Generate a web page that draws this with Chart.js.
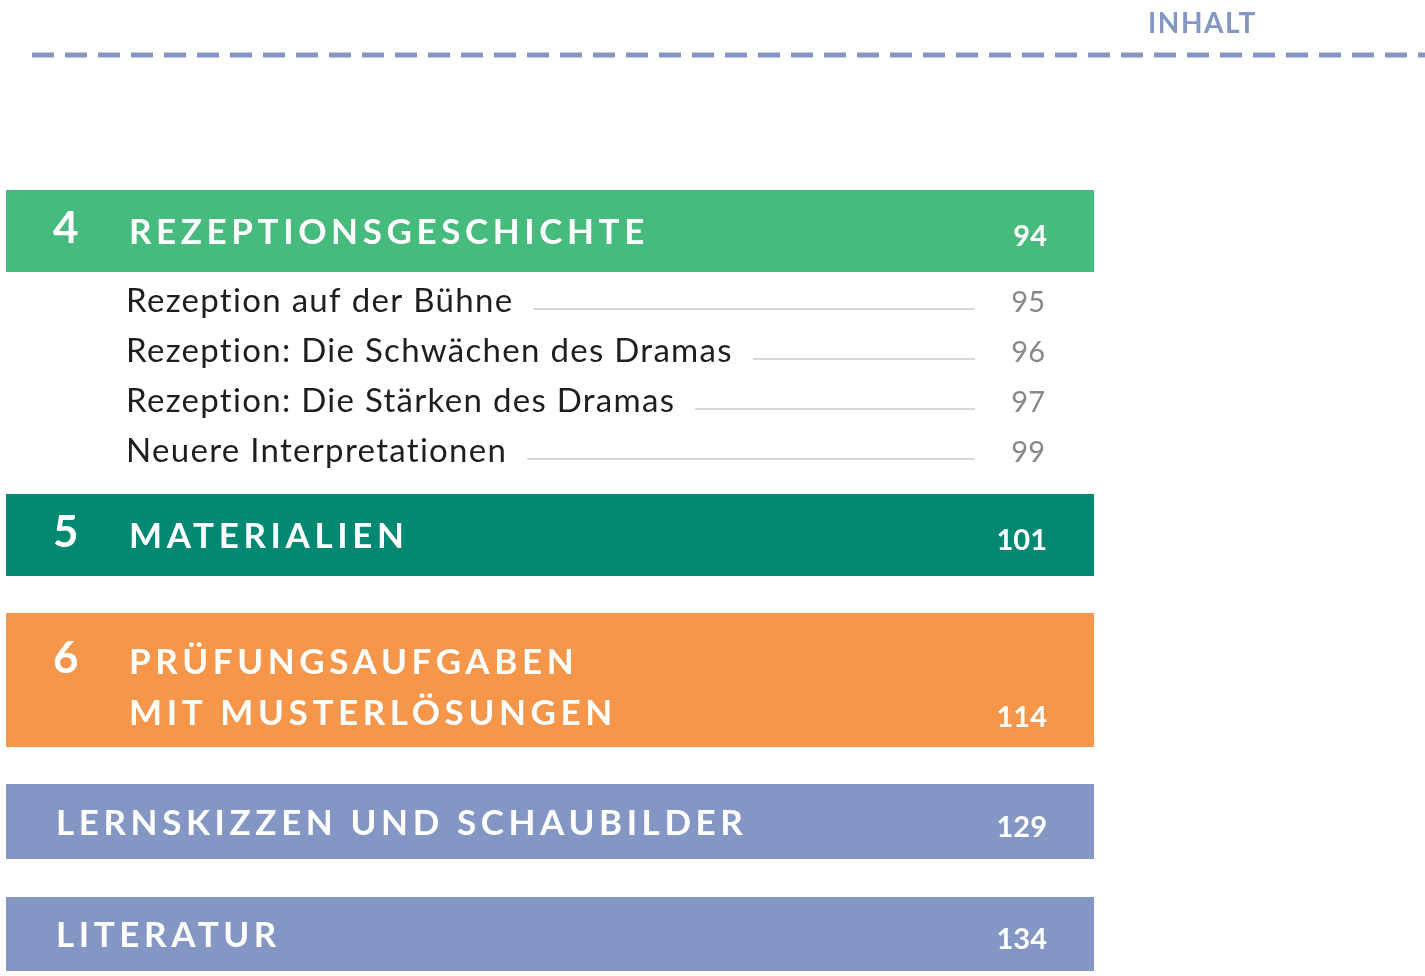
<!DOCTYPE html>
<html><head><meta charset="utf-8">
<script src="https://cdn.jsdelivr.net/npm/chart.js@4"></script>
<style>html,body{margin:0;padding:0;background:#fff}#w{width:1425px;height:976px}</style>
</head><body><div id="w"><canvas id="c"></canvas></div>
<script>
const sectionNumbers = ["4", "5", "6", "", ""];
const sectionTitles = [["REZEPTIONSGESCHICHTE"], ["MATERIALIEN"], ["PRÜFUNGSAUFGABEN", "MIT MUSTERLÖSUNGEN"], ["LERNSKIZZEN UND SCHAUBILDER"], ["LITERATUR"]];
const sectionPages = ["94", "101", "114", "129", "134"];
const sectionColors = ["#47bb7d", "#008872", "#f5964a", "#8497c4", "#8497c4"];
const subTitles = ["Rezeption auf der Bühne", "Rezeption: Die Schwächen des Dramas", "Rezeption: Die Stärken des Dramas", "Neuere Interpretationen"];
const subPages = ["95", "96", "97", "99"];
const headerLabel = "INHALT";

// layout (pixel-space, page coordinates)
const bandTop = [190, 494, 613, 784, 897];
const bandBottom = [272, 576, 747, 859, 971];
const subBaseline = [312, 362, 412, 462];

const floating = bandTop.map((t, i) => ({x: [6, 1094], y: (t + bandBottom[i]) / 2}));

const textPlugin = {
  id: 'toc',
  afterDatasetsDraw(chart) {
    const ctx = chart.ctx, xs = chart.scales.x, ys = chart.scales.y;
    const X = v => xs.getPixelForValue(v), Y = v => ys.getPixelForValue(v);
    ctx.save();
    ctx.fillStyle = "#8497c4";
    ctx.font = "bold 28px Lato";
    ctx.letterSpacing = "1.5px";
    ctx.textBaseline = "alphabetic";
    ctx.textAlign = "left";
    ctx.fillText(headerLabel, X(1148), Y(33));
    ctx.letterSpacing = "0px";
    ctx.strokeStyle = "#8497c4"; ctx.lineWidth = 5; ctx.setLineDash([22, 11]);
    ctx.beginPath(); ctx.moveTo(X(32), Y(55)); ctx.lineTo(X(1425), Y(55)); ctx.stroke();
    ctx.setLineDash([]);
    sectionTitles.forEach((lines, i) => {
      ctx.fillStyle = "#fff";
      const multi = lines.length > 1;
      const base1 = multi ? bandTop[i] + 61 : (bandTop[i] + bandBottom[i]) / 2 + 13;
      if (sectionNumbers[i]) {
        ctx.font = "bold 44px Lato"; ctx.letterSpacing = "0px"; ctx.textAlign = "left";
        ctx.fillText(sectionNumbers[i], X(53), Y(base1 - 1));
      }
      ctx.font = "bold 35px Lato"; ctx.letterSpacing = "4.6px";
      const tx = sectionNumbers[i] ? 129 : 56;
      lines.forEach((l, k) => ctx.fillText(l, X(tx), Y(base1 + k * 51)));
      ctx.letterSpacing = "0px"; ctx.font = "bold 29px Lato"; ctx.textAlign = "right";
      ctx.fillText(sectionPages[i], X(1047), Y(base1 + (lines.length - 1) * 51 + 2));
      ctx.textAlign = "left";
    });
    subTitles.forEach((t, i) => {
      ctx.font = "33px Lato"; ctx.fillStyle = "#1e1e1e"; ctx.letterSpacing = "1.3px";
      ctx.fillText(t, X(126), Y(subBaseline[i]));
      const w = ctx.measureText(t).width;
      ctx.strokeStyle = "#d8d8d8"; ctx.lineWidth = 2;
      ctx.beginPath(); ctx.moveTo(X(126) + w + 20, Y(subBaseline[i] - 3)); ctx.lineTo(X(975), Y(subBaseline[i] - 3)); ctx.stroke();
      ctx.letterSpacing = "0px"; ctx.font = "29px Lato"; ctx.fillStyle = "#888"; ctx.textAlign = "right";
      ctx.fillText(subPages[i], X(1045), Y(subBaseline[i]));
      ctx.textAlign = "left";
    });
    ctx.restore();
  }
};

new Chart(document.getElementById('c'), {
  type: 'bar',
  data: {
    datasets: [{
      data: floating,
      backgroundColor: sectionColors,
      borderWidth: 0,
      barThickness: 0,
    }]
  },
  options: {
    responsive: true, maintainAspectRatio: false, animation: false,
    indexAxis: 'y',
    layout: {padding: 0},
    plugins: {legend: {display: false}, tooltip: {enabled: false}},
    scales: {
      x: {type: 'linear', min: 0, max: 1425, display: false, offset: false, grace: 0},
      y: {type: 'linear', min: 0, max: 976, reverse: true, display: false, offset: false, grace: 0}
    }
  },
  plugins: [{
    id: 'bands',
    beforeDatasetsDraw(chart) {
      const ctx = chart.ctx, xs = chart.scales.x, ys = chart.scales.y;
      floating.forEach((d, i) => {
        ctx.fillStyle = sectionColors[i];
        const x0 = xs.getPixelForValue(d.x[0]), x1 = xs.getPixelForValue(d.x[1]);
        const y0 = ys.getPixelForValue(bandTop[i]), y1 = ys.getPixelForValue(bandBottom[i]);
        ctx.fillRect(x0, y0, x1 - x0, y1 - y0);
      });
    }
  }, textPlugin]
});
</script></body></html>
